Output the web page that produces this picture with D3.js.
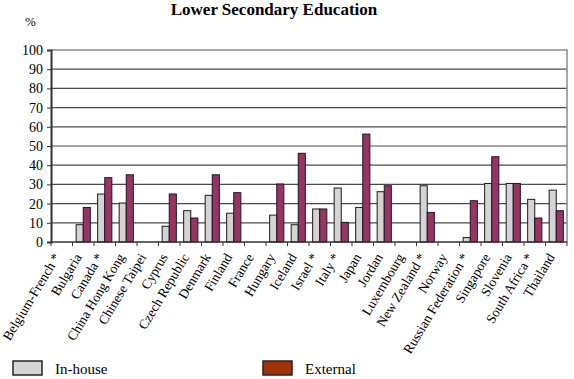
<!DOCTYPE html>
<html lang="en">
<head>
<meta charset="utf-8">
<title>Lower Secondary Education</title>
<script src="https://d3js.org/d3.v7.min.js"></script>
<style>
  body { margin: 0; background: #fff; }
  svg text { font-family: "Liberation Serif", Tinos, "Times New Roman", "DejaVu Serif", serif; fill: #000; }
</style>
</head>
<body>
<script>
// data
const countries = ["Belgium-French *", "Bulgaria", "Canada *", "China Hong Kong", "Chinese Taipei",
  "Cyprus", "Czech Republic", "Denmark", "Finland", "France", "Hungary", "Iceland", "Israel *",
  "Italy *", "Japan", "Jordan", "Luxembourg", "New Zealand *", "Norway", "Russian Federation *",
  "Singapore", "Slovenia", "South Africa *", "Thailand"];
const inHouse  = [null, 9, 25, 20.3, null, 8.2, 16.3, 24.3, 15, null, 14, 9, 17.2, 28.1, 18, 26.2, null, 29.3, null, 2.3, 30.5, 30.5, 22.2, 27];
const external = [null, 18, 33.5, 35, null, 25, 12.5, 35, 25.7, null, 30.2, 46.2, 17.2, 10.2, 56.2, 29.3, null, 15.4, null, 21.5, 44.4, 30.5, 12.5, 16.3];
const yTicks = [0, 10, 20, 30, 40, 50, 60, 70, 80, 90, 100];
const seriesNames = ["In-house", "External"];

const w = 574, h = 379;
const mLeft = 51, mRight = 567, mTop = 50, mBottom = 242;
const serif = "'Liberation Serif', Tinos, 'Times New Roman', 'DejaVu Serif', serif";

const svg = d3.select("body").append("svg")
  .attr("width", w).attr("height", h);

const x = d3.scaleBand().domain(countries).range([mLeft, mRight]).paddingInner(0.34).paddingOuter(0.17);
const y = d3.scaleLinear().domain([0, 100]).range([mBottom, mTop]);

// title
svg.append("text")
  .attr("x", 274).attr("y", 15)
  .attr("text-anchor", "middle")
  .attr("font-size", 17).attr("font-weight", "bold")
  .text("Lower Secondary Education");

svg.append("text")
  .attr("x", 25).attr("y", 26)
  .attr("font-size", 13)
  .text("%");

// gridlines
svg.append("g").selectAll("line")
  .data(yTicks.filter(d => d > 0 && d < 100))
  .join("line")
  .attr("x1", mLeft).attr("x2", mRight)
  .attr("y1", d => y(d)).attr("y2", d => y(d))
  .attr("stroke", "#4a4a4a").attr("stroke-width", 1.2);

// plot frame (top and right, grey)
svg.append("path")
  .attr("d", `M${mLeft},${mTop}H${mRight}V${mBottom}`)
  .attr("fill", "none").attr("stroke", "#8a8a8a").attr("stroke-width", 1.5);

// bars
const bw = x.bandwidth() / 2;
const groups = svg.append("g").selectAll("g")
  .data(countries)
  .join("g");

groups.filter((d, i) => inHouse[i] != null).append("rect")
  .attr("x", d => x(d))
  .attr("y", d => y(inHouse[countries.indexOf(d)]))
  .attr("width", bw)
  .attr("height", d => mBottom - y(inHouse[countries.indexOf(d)]))
  .attr("fill", "#d4d4d4").attr("stroke", "#1a1a1a").attr("stroke-width", 1);

groups.filter((d, i) => external[i] != null).append("rect")
  .attr("x", d => x(d) + bw)
  .attr("y", d => y(external[countries.indexOf(d)]))
  .attr("width", bw)
  .attr("height", d => mBottom - y(external[countries.indexOf(d)]))
  .attr("fill", "#993366").attr("stroke", "#1a1a1a").attr("stroke-width", 1);

// y axis
const yAxis = d3.axisLeft(y).tickValues(yTicks).tickSize(4).tickPadding(4);
const gy = svg.append("g")
  .attr("transform", `translate(${mLeft},0)`)
  .call(yAxis)
  .attr("font-family", serif).attr("font-size", 14);
gy.select(".domain").attr("stroke", "#333").attr("stroke-width", 2);
gy.selectAll(".tick line").attr("stroke", "#333");

// x axis with ticks between categories
svg.append("line")
  .attr("x1", mLeft).attr("x2", mRight)
  .attr("y1", mBottom).attr("y2", mBottom)
  .attr("stroke", "#333").attr("stroke-width", 1.5);

svg.append("g").selectAll("line")
  .data(d3.range(countries.length + 1))
  .join("line")
  .attr("x1", i => mLeft + i * (mRight - mLeft) / countries.length)
  .attr("x2", i => mLeft + i * (mRight - mLeft) / countries.length)
  .attr("y1", mBottom).attr("y2", mBottom + 4)
  .attr("stroke", "#333");

svg.append("g").selectAll("text")
  .data(countries)
  .join("text")
  .attr("transform", d => `translate(${x(d) + x.bandwidth() / 2 - 1},${mBottom + 15}) rotate(-59)`)
  .attr("text-anchor", "end")
  .attr("font-size", 13.5)
  .text(d => d);

// legend
const legendX = [13, 263];
const legendFill = ["#d4d4d4", "#a03408"];
const lg = svg.append("g").selectAll("g")
  .data(seriesNames)
  .join("g")
  .attr("transform", (d, i) => `translate(${legendX[i]},361)`);
lg.append("rect")
  .attr("width", 29).attr("height", 14)
  .attr("fill", (d, i) => legendFill[i])
  .attr("stroke", "#222").attr("stroke-width", 1.5);
lg.append("text")
  .attr("x", 42).attr("y", 13)
  .attr("font-size", 15)
  .text(d => d);
</script>
</body>
</html>
